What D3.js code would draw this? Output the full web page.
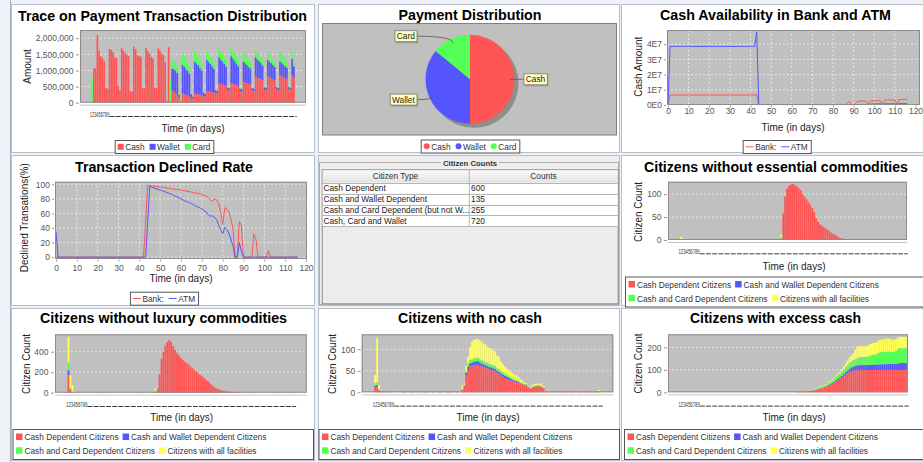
<!DOCTYPE html>
<html>
<head>
<meta charset="utf-8">
<style>
  body { margin: 0; background: #eef1f6; }
  svg { display: block; font-family: "Liberation Sans", Arial, sans-serif; }
</style>
</head>
<body>
<svg id="chart" width="923" height="462"></svg>
<script src="https://cdn.jsdelivr.net/npm/d3@7/dist/d3.min.js"></script>
<script>
// ---------------- data ----------------
const days = d3.range(1, 118); // category labels, one per simulated day
const paymentModes = ["Cash", "Wallet", "Card"];
const paymentShare = [50, 36, 14];
const lineNames = ["Bank:", "ATM"];
const citizenGroups = ["Cash Dependent Citizens", "Cash and Wallet Dependent Citizens",
  "Cash and Card Dependent Citizens", "Citizens with all facilities"];
const citizenTypes = ["Cash Dependent", "Cash and Wallet Dependent",
  "Cash and Card Dependent (but not W...", "Cash, Card and Wallet"];
const citizenCounts = [600, 135, 255, 720];

// payment amounts per day, thousands
const cashK = [
  0,1060,1080,2100,1620,1440,1380,1300,450,430,
  1660,1640,1560,1400,1380,520,380,1690,1620,1550,
  1480,1450,360,340,1740,1650,1480,1450,1420,460,
  440,1690,1600,1520,1420,1380,470,450,1690,1620,
  1520,1480,1250,60,1720,0,380,340,300,240,
  150,20,280,260,240,220,200,150,130,280,
  270,260,250,240,200,190,360,350,340,330,
  320,290,280,600,580,560,540,520,390,380,
  600,590,570,550,520,350,340,650,630,610,
  590,570,380,370,810,780,760,740,700,400,
  390,810,790,760,730,700,420,400,860,830,
  800,770,740,420,400,860,760];
const walletK = [
  0,0,0,0,0,0,0,0,0,0,
  0,0,0,0,0,0,0,0,0,0,
  0,0,0,0,0,0,0,0,0,0,
  0,0,0,0,0,0,0,0,0,0,
  0,0,0,0,0,0,680,700,700,680,
  100,20,890,860,800,760,700,120,60,1000,
  950,900,830,760,120,90,970,920,860,800,
  730,100,80,810,760,720,660,600,80,70,
  840,780,720,670,610,90,80,630,600,560,
  520,490,80,70,600,570,530,490,460,80,
  70,520,490,470,440,410,70,60,420,400,
  380,360,340,70,60,500,370];
const cardK = [
  800,0,0,0,0,0,0,0,0,0,
  0,0,0,0,0,0,0,0,0,0,
  0,0,0,0,0,0,0,0,0,0,
  0,0,0,0,0,0,0,0,0,0,
  0,0,0,0,0,700,270,250,240,230,
  40,80,370,320,280,250,220,40,30,340,
  300,270,250,230,40,30,270,240,220,200,
  190,30,30,290,260,230,210,200,30,30,
  310,280,250,230,210,30,30,320,290,260,
  240,220,30,30,210,200,190,180,170,30,
  30,240,220,200,190,180,30,30,310,280,
  260,240,220,30,30,250,160];

// cash held, millions (1E7 = 10)
const bankM = [
  0,6.6,6.6,6.6,6.6,6.6,6.6,6.6,6.6,6.6,
  6.6,6.6,6.6,6.6,6.6,6.6,6.6,6.6,6.6,6.6,
  6.6,6.6,6.6,6.6,6.6,6.6,6.6,6.6,6.6,6.6,
  6.6,6.6,6.6,6.6,6.6,6.6,6.6,6.6,6.6,6.6,
  6.6,6.6,6.6,6.6,0.3,0.3,0.3,0.3,0.3,0.3,
  0.3,0.3,0.3,0.3,0.3,0.3,0.3,0.3,0.3,0.3,
  0.3,0.3,0.3,0.3,0.3,0.3,0.3,0.3,0.3,0.3,
  0.3,0.3,0.3,0.3,0.3,0.3,0.3,0.3,0.3,0.3,
  0.3,0.3,0.3,0.3,0.3,0.3,0.3,1.5,2.2,0.3,
  0.3,1.2,2.4,2.5,2.5,2.6,2.6,0.3,2.6,2.8,
  2.8,2.8,2.9,2.9,0.3,3.0,3.3,3.3,3.3,3.3,
  3.3,0.3,3.6,3.7,3.7,3.7,3.7];
const atmM = [
  0,38.5,38.5,38.5,38.5,38.5,38.5,38.5,38.5,38.5,
  38.5,38.5,38.5,38.5,38.5,38.5,38.5,38.5,38.5,38.5,
  38.5,38.5,38.5,38.5,38.5,38.5,38.5,38.5,38.5,38.5,
  38.5,38.5,38.5,38.5,38.5,38.5,38.5,38.5,38.5,38.5,
  38.5,38.5,38.5,48,0.4,0.3,0.3,0.3,0.3,0.3,
  0.3,0.3,0.3,0.3,0.3,0.3,0.3,0.3,0.3,0.3,
  0.3,0.3,0.3,0.3,0.3,0.3,0.3,0.3,0.3,0.3,
  0.3,0.3,0.3,0.3,0.3,0.3,0.3,0.3,0.3,0.3,
  0.3,0.3,0.3,0.3,0.3,0.3,0.3,0.3,0.3,0.3,
  0.3,0.3,0.3,0.3,0.3,0.3,0.3,0.3,0.6,0.7,
  0.7,0.7,0.8,0.8,0.3,0.7,0.8,0.8,0.8,0.8,
  0.8,0.3,0.8,0.9,0.9,0.9,0.9];

// declined transactions, percent
const bankDeclined = [
  0,0,0,0,0,0,0,0,0,0,
  0,0,0,0,0,0,0,0,0,0,
  0,0,0,0,0,0,0,0,0,0,
  0,0,0,0,0,0,0,0,0,0,
  0,0,0,48,99,98,97.8,97.5,97,96.6,
  96.2,95.8,95.3,95,94.5,94,93.7,93.3,93,92.5,
  92,91.5,91,90.5,90,89.3,88.7,88,87.5,86.8,
  86,85,84,82,79,77,80,79,74,62,
  45,68,66,62,52,38,0,0,49,43,
  0,0,0,0,0,32,24,0,0,0,
  0,0,9,0,0,0,0,0,0,0,
  0,0,0,0,0,0,0];
const atmDeclined = [
  35,0,0,0,0,0,0,0,0,0,
  0,0,0,0,0,0,0,0,0,0,
  0,0,0,0,0,0,0,0,0,0,
  0,0,0,0,0,0,0,0,0,0,
  0,0,0,0,48,97,96,95,94,93,
  92,91,90,89,88,87,85.5,84,83,81.5,
  80,78.5,77,76,75,73.5,72,70.5,69,68,
  66,64,62,59,56,57,55,52,45,38,
  32,41,38,33,24,15,0,0,20,8,
  0,0,0,0,0,0,0,0,0,0,
  0,0,0,0,0,0,0,0,0,0,
  0,0,0,0,0,0,0];

// citizens without essential commodities
const essCash = [
  0,0,0,0,0,0,0,0,0,0,
  0,0,0,0,0,0,0,0,0,0,
  0,0,0,0,0,0,0,0,0,0,
  0,0,0,0,0,0,0,0,0,0,
  0,0,0,0,0,0,0,0,0,0,
  0,0,0,58,95,112,118,121,122,120,
  117,113,109,100,94,89,83,77,70,62,
  48,40,34,31,28,25,22,19,16,13,
  11,8,5,4,3,2,1,0,0,0,
  0,0,0,0,0,0,0,0,0,0,
  0,0,0,0,0,0,0,0,0,0,
  0,0,0,0,0,0,0];
const essWallet = [
  0,0,0,0,0,0,0,0,0,0,
  0,0,0,0,0,0,0,0,0,0,
  0,0,0,0,0,0,0,0,0,0,
  0,0,0,0,0,0,0,0,0,0,
  0,0,0,0,0,0,0,0,0,0,
  0,0,0,0,0,0,0,0,0,0,
  0,0,0,0,0,0,0,0,0,0,
  0,0,0,0,0,0,0,0,0,0,
  0,0,0,0,0,0,0,0,0,0,
  0,0,0,0,0,0,0,0,0,0,
  0,0,0,0,0,0,0,0,0,0,
  0,0,0,0,0,0,0];
const essCard = [
  0,0,0,0,0,0,0,0,0,0,
  0,0,0,0,0,0,0,0,0,0,
  0,0,0,0,0,0,0,0,0,0,
  0,0,0,0,0,0,0,0,0,0,
  0,0,0,0,0,0,0,0,0,0,
  0,0,6,0,0,0,0,0,0,0,
  0,0,0,0,0,0,0,0,0,0,
  0,0,0,0,0,0,0,0,0,0,
  0,0,0,0,0,0,0,0,0,0,
  0,0,0,0,0,0,0,0,0,0,
  0,0,0,0,0,0,0,0,0,0,
  0,0,0,0,0,0,0];
const essAll = [
  7,3,1,0,0,0,0,0,0,0,
  0,0,0,0,0,0,0,0,0,0,
  0,0,0,0,0,0,0,0,0,0,
  0,0,0,0,0,0,0,0,0,0,
  0,0,0,0,0,0,0,0,0,0,
  0,0,6,0,0,0,0,0,0,0,
  0,0,0,0,0,0,0,0,0,0,
  0,0,0,0,0,0,0,0,0,0,
  0,0,0,0,0,0,0,0,0,0,
  0,0,0,0,0,0,0,0,0,0,
  0,0,0,0,0,0,0,0,0,0,
  0,0,0,0,0,0,0];

// citizens without luxury commodities
const luxCash = [
  172,30,5,2,0,0,0,0,0,0,
  0,0,0,0,0,0,0,0,6,0,
  0,0,0,0,0,0,0,0,0,0,
  0,0,0,0,0,0,0,5,0,0,
  0,0,0,0,0,0,40,180,330,400,
  460,495,515,495,455,420,390,365,340,320,
  303,290,276,255,240,222,205,190,172,160,
  143,128,112,92,75,60,46,36,29,23,
  19,15,12,10,8,6,4,3,2,1,
  0,0,0,0,0,5,0,0,0,0,
  0,0,0,0,0,0,0,0,0,5,
  0,0,0,0,0,0,6];
const luxWallet = [
  46,5,0,0,0,0,0,0,0,0,
  0,0,0,0,0,0,0,0,0,0,
  0,0,0,0,0,0,0,0,0,0,
  0,0,0,0,0,0,0,0,0,0,
  0,0,0,0,0,0,0,0,0,0,
  0,0,0,0,0,0,0,0,0,0,
  0,0,0,0,0,0,0,0,0,0,
  0,0,0,0,0,0,0,0,0,0,
  0,0,0,0,0,0,0,0,0,0,
  0,0,0,0,0,0,0,0,0,0,
  0,0,0,0,0,0,0,0,0,0,
  0,0,0,0,0,0,0];
const luxCard = [
  78,15,5,0,0,0,0,0,0,0,
  0,0,0,0,0,0,0,0,0,0,
  0,0,0,0,0,0,0,0,0,0,
  0,0,0,0,0,0,0,0,0,0,
  0,0,0,0,0,20,0,0,0,0,
  0,0,0,0,0,0,0,0,0,0,
  0,0,0,0,0,0,0,0,0,0,
  0,0,0,0,0,0,0,0,0,0,
  0,0,0,0,0,0,0,0,0,0,
  0,0,0,0,0,0,0,0,0,0,
  0,0,0,0,0,0,0,0,0,0,
  0,0,0,0,0,0,0];
const luxAll = [
  250,120,65,14,0,0,0,0,0,0,
  0,0,0,0,0,0,0,0,0,0,
  0,0,0,0,0,0,0,0,0,0,
  0,0,0,0,0,0,0,0,0,0,
  0,0,0,0,0,20,0,0,0,0,
  0,0,0,0,0,0,0,0,0,0,
  0,0,0,0,0,0,0,0,0,0,
  0,0,0,0,0,0,0,0,0,0,
  0,0,0,0,0,0,0,0,0,0,
  0,0,0,0,0,0,0,0,0,0,
  0,0,0,0,0,0,0,0,0,0,
  0,0,0,0,0,0,0];

// citizens with no cash
const nocCash = [
  12,14,4,3,2,1,0,2,1,0,
  0,1,0,0,2,1,0,0,0,3,
  1,0,0,1,0,2,2,1,0,0,
  1,0,0,2,1,0,0,1,2,1,
  0,0,1,0,0,5,13,40,52,60,
  62,64,64,64,62,60,58,57,56,54,
  52,51,50,46,44,39,36,33,31,29,
  27,25,24,23,22,20,19,18,17,13,
  9,11,13,14,15,14,13,10,3,2,
  1,0,1,2,1,0,1,2,1,1,
  0,1,2,1,0,1,1,0,1,2,
  1,1,0,1,2,2,2];
const nocWallet = [
  3,3,1,0,0,0,0,0,0,0,
  0,0,0,0,0,0,0,0,0,0,
  0,0,0,0,0,0,0,0,0,0,
  0,0,0,0,0,0,0,0,0,0,
  0,0,0,0,0,1,2,5,8,7,
  7,7,8,9,8,7,7,6,5,5,
  6,5,4,4,4,5,5,5,5,5,
  4,4,3,3,2,1,1,0,0,0,
  0,0,0,0,0,0,0,0,0,0,
  0,0,0,0,0,0,0,0,0,0,
  0,0,0,0,0,0,0,0,0,0,
  0,0,0,0,0,0,0];
const nocCard = [
  6,6,2,0,0,0,0,0,0,0,
  0,0,0,0,0,0,0,0,0,0,
  0,0,0,0,0,0,0,0,0,0,
  0,0,0,0,0,0,0,0,0,0,
  0,0,0,0,0,2,3,5,7,8,
  8,8,8,8,8,8,7,7,8,7,
  7,7,8,6,6,6,6,6,5,5,
  4,4,3,3,3,2,2,1,2,1,
  1,2,2,2,2,1,2,1,0,0,
  0,0,0,0,0,0,0,0,0,0,
  0,0,0,0,0,0,0,0,0,0,
  1,0,0,0,1,1,1];
const nocAll = [
  19,103,10,1,0,0,0,0,0,0,
  0,0,0,0,0,0,0,0,0,0,
  0,0,0,0,0,0,0,0,0,0,
  0,0,0,0,0,0,0,0,0,0,
  0,0,0,0,0,8,3,12,16,31,
  40,43,43,43,43,43,42,41,37,37,
  37,35,33,30,29,21,18,16,14,13,
  12,11,11,11,9,8,6,4,2,2,
  2,4,4,4,3,3,6,3,1,0,
  1,0,0,0,0,0,0,0,0,0,
  1,0,0,0,1,0,0,0,1,0,
  0,0,2,0,0,2,2];

// citizens with excess cash
const excCash = [
  0,0,0,0,0,0,0,0,0,0,
  0,0,0,0,0,0,0,0,0,0,
  0,0,0,0,0,0,0,0,0,0,
  0,0,0,0,0,0,0,0,0,0,
  0,0,0,0,0,0,0,0,0,0,
  0,0,0,0,0,0,0,0,0,0,
  1,1,2,3,4,4,5,6,7,9,
  11,14,16,19,22,25,29,33,38,43,
  50,56,62,68,75,82,87,91,94,96,
  98,99,99,99,99,99,99,99,99,99,
  99,99,99,99,99,99,99,99,99,99,
  99,99,99,99,99,99,99];
const excWallet = [
  0,0,0,0,0,0,0,0,0,0,
  0,0,0,0,0,0,0,0,0,0,
  0,0,0,0,0,0,0,0,0,0,
  0,0,0,0,0,0,0,0,0,0,
  0,0,0,0,0,0,0,0,0,0,
  0,0,0,0,0,0,0,0,0,0,
  0,0,0,0,0,0,0,1,1,1,
  1,1,2,2,2,2,3,3,3,4,
  4,5,5,6,7,8,10,14,17,18,
  20,21,22,22,22,22,22,23,23,24,
  24,24,25,25,26,26,26,27,27,27,
  27,28,30,31,31,31,31];
const excCard = [
  0,0,0,0,0,0,0,0,0,0,
  0,0,0,0,0,0,0,0,0,0,
  0,0,0,0,0,0,0,0,0,0,
  0,0,0,0,0,0,0,0,0,0,
  0,0,0,0,0,0,0,0,0,0,
  0,0,0,0,0,0,0,0,0,0,
  0,1,1,1,1,2,2,2,2,3,
  3,4,4,5,6,6,8,10,12,14,
  16,17,17,19,21,23,25,27,28,30,
  31,32,35,36,36,36,37,40,42,44,
  45,46,52,54,55,55,55,56,54,54,
  54,58,66,66,66,66,66];
const excAll = [
  0,0,0,0,0,0,0,0,0,0,
  0,0,0,0,0,0,0,0,0,0,
  0,0,0,0,0,0,0,0,0,0,
  0,0,0,0,0,0,0,0,0,0,
  0,0,0,0,0,0,0,0,0,0,
  0,0,0,0,0,0,0,0,0,0,
  0,0,0,1,1,1,1,1,1,2,
  2,2,3,3,3,3,4,4,4,5,
  5,6,8,10,12,16,20,24,27,30,
  42,50,50,49,48,48,48,50,52,52,
  52,53,55,55,55,56,58,58,56,54,
  52,52,50,50,50,50,50];

// ---------------- drawing ----------------
const RED = "#ff5555", BLUE = "#5555ff", GREEN = "#55ff55", YELLOW = "#ffff55";
const groupColors = [RED, BLUE, GREEN, YELLOW];
const PLOT_BG = "#c0c0c0";
const FONT = "Liberation Sans";
const svg = d3.select("#chart");

function label(g, s, x, y, o) {
  o = o || {};
  const t = g.append("text").attr("x", x).attr("y", y).text(s)
    .attr("font-size", o.size || 8)
    .attr("fill", o.fill || "#000")
    .attr("text-anchor", o.anchor || "start");
  if (o.bold) t.attr("font-weight", "bold");
  if (o.rotate) t.attr("transform", `rotate(-90 ${x} ${y})`);
  if (o.width) t.attr("textLength", o.width).attr("lengthAdjust", "spacingAndGlyphs");
  return t;
}
const textW = t => +t.attr("textLength") || t.node().getComputedTextLength();

function panel(x0, y0, x1, y1, fill) {
  svg.append("rect").attr("x", x0 + 0.5).attr("y", y0 + 0.5)
    .attr("width", x1 - x0 - 1).attr("height", y1 - y0 - 1)
    .attr("fill", fill || "#fff").attr("stroke", "#b7bfcb");
}
svg.append("line").attr("x1", 10.5).attr("x2", 10.5).attr("y1", 0).attr("y2", 462).attr("stroke", "#a3b1c8");
panel(11, 4, 315, 153); panel(318, 4, 620, 153); panel(621, 4, 932, 153);
panel(11, 155, 315, 306); panel(318, 155, 620, 306, "#eeeeee"); panel(621, 155, 932, 306);
panel(11, 308, 315, 461); panel(318, 308, 620, 461); panel(621, 308, 932, 461);

function styleAxis(a) {
  a.attr("font-size", 8.5).attr("font-family", FONT);
  a.select(".domain").remove();
  a.selectAll(".tick line").attr("stroke", "#999");
  a.selectAll("text").attr("fill", "#555");
}

function title(o) {
  label(svg, o.title, o.titleX, o.titleY, {size: 14, bold: true, anchor: "middle", width: o.titleW});
}

function axisTitles(g, o) {
  label(g, "Time (in days)", o.xlX, o.xlY, {size: 10, anchor: "middle", fill: "#222"});
  label(g, o.yLabel, o.ylX, o.ylY, {size: 10, anchor: "middle", rotate: true, fill: "#222"});
}

function barChart(o) {
  const g = svg.append("g");
  const [px0, py0, px1, py1] = o.plot;
  const w = px1 - px0;
  const x = d3.scaleBand().domain(days).range([px0 + w * 0.05, px1 - w * o.upper]).paddingInner(0.05);
  const y = d3.scaleLinear().domain([0, o.yMax]).range([py1, py0]);

  g.append("rect").attr("x", px0).attr("y", py0).attr("width", w).attr("height", py1 - py0).attr("fill", PLOT_BG);
  g.selectAll(".grid").data(o.ticks.slice(1)).join("line")
    .attr("x1", px0).attr("x2", px1).attr("y1", d => y(d)).attr("y2", d => y(d))
    .attr("stroke", "#fff").attr("stroke-width", 0.6).attr("stroke-dasharray", "2,2");

  const keys = o.series.map((s, i) => "s" + i);
  const rows = days.map((d, i) => {
    const r = {day: d};
    o.series.forEach((s, j) => { r["s" + j] = s[i] || 0; });
    return r;
  });
  const stacked = d3.stack().keys(keys)(rows);
  g.selectAll("g.layer").data(stacked).join("g").attr("fill", (d, i) => o.colors[i])
    .selectAll("rect").data(d => d).join("rect")
    .attr("x", d => x(d.data.day)).attr("width", x.bandwidth())
    .attr("y", d => y(d[1])).attr("height", d => Math.max(0, y(d[0]) - y(d[1])));

  g.append("rect").attr("x", px0 + 0.5).attr("y", py0 + 0.5).attr("width", w - 1).attr("height", py1 - py0 - 1)
    .attr("fill", "none").attr("stroke", "#8c8c8c");

  g.append("g").attr("transform", `translate(${px0 - 1},0)`)
    .call(d3.axisLeft(y).tickValues(o.ticks).tickFormat(o.fmt).tickSize(3).tickPadding(2.5))
    .call(styleAxis);

  // category axis: labels 1-9 crowd together, the rest collapse into a run of ellipses
  const base = py1 + 14.3;
  g.append("line").attr("x1", px0).attr("x2", px1).attr("y1", py1 + 2.5).attr("y2", py1 + 2.5)
    .attr("stroke", "#c4c4c4");
  const short = days.filter(d => d < 10);
  const bx0 = x(short[0]) - 1.5, bx1 = x(short[short.length - 1]) + x.bandwidth() + 2.5;
  label(g, short.join(""), bx0, base, {size: 8, fill: "#333", width: bx1 - bx0});
  g.append("line").attr("x1", bx1).attr("x2", x(days[days.length - 1]) + x.bandwidth() + 2)
    .attr("y1", base - 0.5).attr("y2", base - 0.5)
    .attr("stroke", "#3a3a3a").attr("stroke-width", 1).attr("stroke-dasharray", "5,1.2");

  axisTitles(g, o);
  title(o);
}

function lineChart(o) {
  const g = svg.append("g");
  const [px0, py0, px1, py1] = o.plot;
  const x = d3.scaleLinear().domain([0, 120]).range(o.xRange);
  const y = d3.scaleLinear().domain(o.yDomain).range([py1, py0]);
  const xTicks = d3.range(0, 121, 10);

  g.append("rect").attr("x", px0).attr("y", py0).attr("width", px1 - px0).attr("height", py1 - py0).attr("fill", PLOT_BG);
  g.selectAll(".vgrid").data(xTicks.slice(1, -1)).join("line")
    .attr("x1", d => x(d)).attr("x2", d => x(d)).attr("y1", py0).attr("y2", py1)
    .attr("stroke", "#fff").attr("stroke-width", 0.6).attr("stroke-dasharray", "2,2");
  g.selectAll(".hgrid").data(o.yTicks).join("line")
    .attr("x1", px0).attr("x2", px1).attr("y1", d => y(d)).attr("y2", d => y(d))
    .attr("stroke", "#fff").attr("stroke-width", 0.6).attr("stroke-dasharray", "2,2");

  const line = d3.line().x((d, i) => x(i)).y(d => y(d));
  o.series.forEach((s, i) => {
    g.append("path").attr("d", line(s)).attr("fill", "none")
      .attr("stroke", [RED, BLUE][i]).attr("stroke-width", 1);
  });

  g.append("rect").attr("x", px0 + 0.5).attr("y", py0 + 0.5).attr("width", px1 - px0 - 1).attr("height", py1 - py0 - 1)
    .attr("fill", "none").attr("stroke", "#8c8c8c");

  g.append("g").attr("transform", `translate(${px0 - 1},0)`)
    .call(d3.axisLeft(y).tickValues(o.yTicks).tickFormat(o.fmt).tickSize(2).tickPadding(2))
    .call(styleAxis);
  g.append("g").attr("transform", `translate(0,${py1 + 0.5})`)
    .call(d3.axisBottom(x).tickValues(xTicks).tickFormat(d3.format("d")).tickSize(2).tickPadding(o.xtPad))
    .call(styleAxis);

  axisTitles(g, o);
  title(o);
}

// single row legend centred on cx
function legendRow(names, colors, cx, top, shape) {
  const g = svg.append("g");
  const box = g.append("rect");
  let cur = 3;
  const mid = top + 6.8;
  names.forEach((n, i) => {
    let sw = 6;
    if (shape === "circle") {
      g.append("circle").attr("cx", cur + 3).attr("cy", mid).attr("r", 3).attr("fill", colors[i]);
    } else if (shape === "line") {
      sw = 8;
      g.append("line").attr("x1", cur).attr("x2", cur + sw).attr("y1", mid).attr("y2", mid)
        .attr("stroke", colors[i]).attr("stroke-width", 1);
    } else {
      g.append("rect").attr("x", cur).attr("y", mid - 3).attr("width", 6).attr("height", 6).attr("fill", colors[i]);
    }
    const t = label(g, n, cur + sw + 1.5, top + 10, {size: 8.3, fill: "#333"});
    cur += sw + 1.5 + textW(t) + 5;
  });
  const wBox = cur - 2;
  box.attr("x", 0.5).attr("y", top + 0.5).attr("width", wBox).attr("height", 13)
    .attr("fill", "#fff").attr("stroke", "#555");
  g.attr("transform", `translate(${cx - wBox / 2},0)`);
}

// two row legend for the citizen group charts
function legendGroups(x0, x1, top) {
  const g = svg.append("g");
  g.append("rect").attr("x", x0 + 0.5).attr("y", top + 0.5).attr("width", x1 - x0).attr("height", 30)
    .attr("fill", "#fff").attr("stroke", "#555");
  [[0, 1], [2, 3]].forEach((row, r) => {
    let cur = x0 + 3.5;
    const base = top + 11.3 + r * 13.8;
    row.forEach(i => {
      g.append("rect").attr("x", cur).attr("y", base - 6.8).attr("width", 6.5).attr("height", 6.5).attr("fill", groupColors[i]);
      const t = label(g, citizenGroups[i], cur + 8.5, base, {size: 8.3, fill: "#333"});
      cur += 8.5 + textW(t) + 4;
    });
  });
}

// ---- panel 1: payment trace ----
barChart({
  title: "Trace on Payment Transaction Distribution", titleX: 162.5, titleY: 20.5, titleW: 289,
  plot: [80, 30, 306, 102.7], upper: 0.05, yMax: 2255, ticks: [0, 500, 1000, 1500, 2000],
  fmt: d => d3.format(",")(d * 1000), series: [cashK, walletK, cardK], colors: [RED, BLUE, GREEN],
  yLabel: "Amount", ylX: 30.5, ylY: 66.5, xlX: 193, xlY: 131.5
});
legendRow(paymentModes, [RED, BLUE, GREEN], 164, 140, "rect");

// ---- panel 2: pie ----
(function () {
  title({title: "Payment Distribution", titleX: 470, titleY: 20, titleW: 143});
  const g = svg.append("g");
  g.append("rect").attr("x", 322.5).attr("y", 23.5).attr("width", 294).attr("height", 111.5)
    .attr("fill", PLOT_BG).attr("stroke", "#808080");
  const cx = 470, cy = 79.3, r = 44.5;
  g.append("circle").attr("cx", cx + 4).attr("cy", cy + 4).attr("r", r).attr("fill", "#8e8e8e");
  const arcs = d3.pie().sort(null).value(d => d)(paymentShare);
  const arc = d3.arc().innerRadius(0).outerRadius(r);
  const colors = [RED, BLUE, GREEN];
  g.selectAll("path.slice").data(arcs).join("path")
    .attr("transform", `translate(${cx},${cy})`).attr("d", arc).attr("fill", (d, i) => colors[i]);

  arcs.forEach((a, i) => {
    const mid = (a.startAngle + a.endAngle) / 2;
    const side = Math.sin(mid) >= 0 ? 1 : -1;
    const px = cx + Math.sin(mid) * r * 0.9, py = cy - Math.cos(mid) * r * 0.9;
    const lx = cx + side * 53.5, ly = cy - Math.cos(mid) * r * 1.07;
    g.append("path").attr("d", `M${lx},${ly} Q${px},${ly} ${px},${py}`)
      .attr("fill", "none").attr("stroke", "#555").attr("stroke-width", 0.8);
    const lg = g.append("g");
    const shadow = lg.append("rect"), box = lg.append("rect");
    const t = label(lg, paymentModes[i], 0, ly + 3, {size: 8.3, fill: "#222"});
    const bw = textW(t) + 4;
    const bx = side > 0 ? lx : lx - bw;
    t.attr("x", bx + 2.3);
    shadow.attr("x", bx + 1.5).attr("y", ly - 5.5 + 1.5).attr("width", bw).attr("height", 11).attr("fill", "#9a9a9a");
    box.attr("x", bx + 0.5).attr("y", ly - 5.5).attr("width", bw).attr("height", 11)
      .attr("fill", "#ffffc0").attr("stroke", "#777").attr("stroke-width", 0.8);
  });
  legendRow(paymentModes, colors, 470, 139.5, "circle");
})();

// ---- panel 3: cash availability ----
lineChart({
  title: "Cash Availability in Bank and ATM", titleX: 775.5, titleY: 19.5, titleW: 231,
  plot: [667, 30, 920, 105], xRange: [668, 915.5], yDomain: [0, 49.3], yTicks: [0, 10, 20, 30, 40],
  fmt: v => v === 0 ? "0E0" : (v / 10) + "E7", series: [bankM, atmM],
  yLabel: "Cash Amount", ylX: 642, ylY: 66.7, xlX: 793, xlY: 130.5, xtPad: 0.5
});
legendRow(lineNames, [RED, BLUE], 776.7, 140, "line");

// ---- panel 4: declined rate ----
lineChart({
  title: "Transaction Declined Rate", titleX: 164, titleY: 172, titleW: 178,
  plot: [55, 181.7, 307, 259], xRange: [56, 306], yDomain: [-2.5, 103.6], yTicks: [0, 20, 40, 60, 80, 100],
  fmt: d3.format("d"), series: [bankDeclined, atmDeclined],
  yLabel: "Declined Transations(%)", ylX: 28.5, ylY: 217.7, xlX: 181, xlY: 282, xtPad: 3
});
legendRow(lineNames, [RED, BLUE], 164, 291.7, "line");

// ---- panel 5: citizen counts table ----
(function () {
  const g = svg.append("g");
  g.append("rect").attr("x", 319.5).attr("y", 162.5).attr("width", 299).attr("height", 142)
    .attr("fill", "none").attr("stroke", "#b0b0b0");
  g.append("rect").attr("x", 441).attr("y", 159).attr("width", 58).attr("height", 8).attr("fill", "#eeeeee");
  label(g, "Citizen Counts", 470, 165.5, {size: 8, bold: true, anchor: "middle", width: 54, fill: "#333"});
  const x0 = 321.7, x1 = 617.7, xm = 469.3, y0 = 169.3, hh = 13.4, rh = 10.9;
  g.append("rect").attr("x", x0 + 0.5).attr("y", y0 + 0.5).attr("width", x1 - x0).attr("height", 303.3 - y0)
    .attr("fill", "#ececec").attr("stroke", "#8a8a8a");
  const grad = svg.append("defs").append("linearGradient").attr("id", "hdr").attr("x1", 0).attr("x2", 0).attr("y1", 0).attr("y2", 1);
  grad.append("stop").attr("offset", 0).attr("stop-color", "#fafafa");
  grad.append("stop").attr("offset", 1).attr("stop-color", "#e2e2e2");
  g.append("rect").attr("x", x0 + 1).attr("y", y0 + 1).attr("width", x1 - x0 - 1).attr("height", hh - 1).attr("fill", "url(#hdr)");
  const rowY = d3.scaleBand().domain(d3.range(citizenTypes.length)).range([y0 + hh, y0 + hh + rh * citizenTypes.length]);
  g.selectAll("rect.row").data(citizenTypes).join("rect")
    .attr("x", x0 + 1).attr("y", (d, i) => rowY(i)).attr("width", x1 - x0 - 1).attr("height", rh)
    .attr("fill", "#fff");
  [y0 + hh].concat(citizenTypes.map((d, i) => rowY(i) + rh)).forEach(yy => {
    g.append("line").attr("x1", x0).attr("x2", x1).attr("y1", Math.round(yy) + 0.5).attr("y2", Math.round(yy) + 0.5)
      .attr("stroke", "#b5b5b5");
  });
  g.append("line").attr("x1", xm).attr("x2", xm).attr("y1", y0).attr("y2", rowY(citizenTypes.length - 1) + rh)
    .attr("stroke", "#b5b5b5");
  label(g, "Citizen Type", (x0 + xm) / 2, y0 + 10, {size: 8.3, anchor: "middle", fill: "#333"});
  label(g, "Counts", (xm + x1) / 2, y0 + 10, {size: 8.3, anchor: "middle", fill: "#333"});
  citizenTypes.forEach((c, i) => {
    label(g, c, x0 + 1.8, rowY(i) + 8.2, {size: 8.3, fill: "#222"});
    label(g, String(citizenCounts[i]), xm + 1.8, rowY(i) + 8.2, {size: 8.3, fill: "#222"});
  });
})();

// ---- panels 6-9: citizen groups ----
const groupTicksFmt = d3.format("d");
barChart({
  title: "Citizens without essential commodities", titleX: 776, titleY: 172, titleW: 264,
  plot: [668, 181.7, 907, 240], upper: 0.005, yMax: 127, ticks: [0, 50, 100], fmt: groupTicksFmt,
  series: [essCash, essWallet, essCard, essAll], colors: groupColors,
  yLabel: "Citizen Count", ylX: 642, ylY: 212, xlX: 794, xlY: 269.5
});
legendGroups(625, 935, 276.5);

barChart({
  title: "Citizens without luxury commodities", titleX: 163.5, titleY: 322.5, titleW: 247,
  plot: [55, 334.3, 306.7, 392.7], upper: 0.05, yMax: 570, ticks: [0, 200, 400], fmt: groupTicksFmt,
  series: [luxCash, luxWallet, luxCard, luxAll], colors: groupColors,
  yLabel: "Citizen Count", ylX: 30, ylY: 364, xlX: 181.7, xlY: 421
});
legendGroups(12.5, 313, 429);

barChart({
  title: "Citizens with no cash", titleX: 470, titleY: 323, titleW: 144,
  plot: [361.7, 334.3, 613.3, 392.3], upper: 0.05, yMax: 135, ticks: [0, 50, 100], fmt: groupTicksFmt,
  series: [nocCash, nocWallet, nocCard, nocAll], colors: groupColors,
  yLabel: "Citizen Count", ylX: 335.5, ylY: 364, xlX: 488, xlY: 421
});
legendGroups(318.5, 619, 429);

barChart({
  title: "Citizens with excess cash", titleX: 775.5, titleY: 323, titleW: 171,
  plot: [668, 334.3, 908, 392.3], upper: 0.005, yMax: 258, ticks: [0, 100, 200], fmt: groupTicksFmt,
  series: [excCash, excWallet, excCard, excAll], colors: groupColors,
  yLabel: "Citizen Count", ylX: 642, ylY: 363.5, xlX: 794, xlY: 421
});
legendGroups(624, 935, 429);
</script>
</body>
</html>
